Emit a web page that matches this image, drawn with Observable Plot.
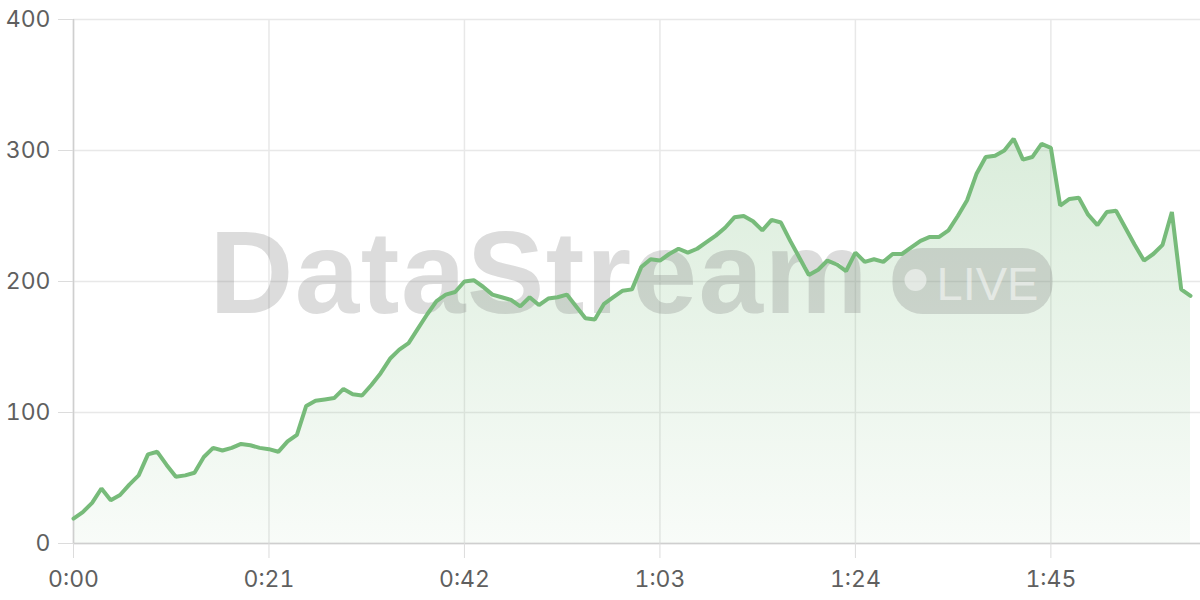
<!DOCTYPE html>
<html>
<head>
<meta charset="utf-8">
<script src="https://cdn.jsdelivr.net/npm/d3@7"></script>
<script src="https://cdn.jsdelivr.net/npm/@observablehq/plot@0.6"></script>
<style>
  html, body { margin: 0; padding: 0; background: #fff; }
  #chart { width: 1200px; height: 600px; }
</style>
</head>
<body>
<div id="chart"></div>
<script>
// Values per second (0:00 .. 2:00)
const values = [
  19, 24, 31, 42, 33, 37, 45, 52, 68, 70,
  60, 51, 52, 54, 66, 73, 71, 73, 76, 75,
  73, 72, 70, 78, 83, 105, 109, 110, 111, 118,
  114, 113, 121, 130, 141, 148, 153, 164, 175, 185,
  190, 192, 200, 201, 196, 190, 188, 186, 181, 188,
  182, 187, 188, 190, 181, 172, 171, 183, 188, 193,
  194, 211, 217, 216, 221, 225, 222, 225, 230, 235,
  241, 249, 250, 246, 239, 247, 245, 231, 218, 205,
  209, 216, 213, 208, 222, 215, 217, 215, 221, 221,
  226, 231, 234, 234, 239, 250, 262, 282, 295, 296,
  300, 309, 293, 295, 305, 302, 258, 263, 264, 251,
  243, 253, 254, 241, 228, 216, 221, 228, 253, 194,
  189
];
const seconds = values.map((_, i) => i);
const xTicks = [0, 21, 42, 63, 84, 105];
const xTickLabels = ["0:00", "0:21", "0:42", "1:03", "1:24", "1:45"];
const yTicks = [0, 100, 200, 300, 400];

const data = values.map((v, i) => ({t: seconds[i], v}));

const lineColor = "#77bb7a";

const gradientDefs = () => {
  const g = d3.create("svg:g");
  const grad = g.append("defs").append("linearGradient")
    .attr("id", "areaGrad").attr("x1", 0).attr("y1", 0).attr("x2", 0).attr("y2", 1);
  grad.append("stop").attr("offset", "0%").attr("stop-color", lineColor).attr("stop-opacity", 0.27);
  grad.append("stop").attr("offset", "100%").attr("stop-color", lineColor).attr("stop-opacity", 0.05);
  return g.node();
};

const watermark = (index, scales, values, dimensions) => {
  const {height, marginTop, marginBottom} = dimensions;
  const cx = (scales.x(0) + scales.x(120)) / 2;
  const cy = marginTop + (height - marginTop - marginBottom) / 2;
  const g = d3.create("svg:g").attr("pointer-events", "none").attr("text-anchor", "start");
  const grey = "rgba(120,120,120,0.26)";
  g.append("text")
    .attr("x", cx - 422).attr("y", cy + 32)
    .attr("text-anchor", "start")
    .attr("font-family", "'Liberation Sans', Arial, sans-serif")
    .attr("font-weight", "bold").attr("font-size", 116)
    .attr("letter-spacing", "1.5px")
    .attr("fill", grey)
    .text("DataStream");
  g.append("rect")
    .attr("x", cx + 261).attr("y", cy - 33)
    .attr("width", 160).attr("height", 66).attr("rx", 30)
    .attr("fill", grey);
  g.append("circle")
    .attr("cx", cx + 284).attr("cy", cy - 1).attr("r", 11)
    .attr("fill", "rgba(255,255,255,0.5)");
  g.append("text")
    .attr("x", cx + 305).attr("y", cy + 19)
    .attr("text-anchor", "start")
    .attr("font-family", "'Liberation Sans', Arial, sans-serif")
    .attr("font-size", 47)
    .attr("fill", "rgba(255,255,255,0.5)")
    .text("LIVE");
  return g.node();
};

const chart = Plot.plot({
  width: 1200,
  height: 600,
  marginLeft: 73,
  marginRight: 0,
  marginTop: 19,
  marginBottom: 57,
  style: {fontFamily: "Inter, 'DejaVu Sans', sans-serif", fontSize: "23px", background: "#fff", color: "#5f5f5f"},
  x: {domain: [0, 120], insetRight: 10},
  y: {domain: [0, 400]},
  marks: [
    gradientDefs,
    Plot.gridY(yTicks, {stroke: "#e8e8e8", strokeOpacity: 1, strokeWidth: 1.5}),
    Plot.gridX(xTicks, {stroke: "#e8e8e8", strokeOpacity: 1, strokeWidth: 1.5}),
    Plot.areaY(data, {x: "t", y: "v", fill: "url(#areaGrad)"}),
    watermark,
    Plot.ruleX([0], {stroke: "#cfcfcf", strokeWidth: 1.5}),
    Plot.ruleY([0], {stroke: "#cfcfcf", strokeWidth: 1.5}),
    Plot.lineY(data, {x: "t", y: "v", stroke: lineColor, strokeWidth: 4, strokeLinejoin: "miter"}),
    Plot.axisX(xTicks, {tickFormat: d => xTickLabels[xTicks.indexOf(d)], tickSize: 15, tickPadding: 12, stroke: "#dcdcdc", fill: "#5f5f5f", label: null}),
    Plot.axisY(yTicks, {tickSize: 15, tickPadding: 8, stroke: "#dcdcdc", fill: "#5f5f5f", label: null})
  ]
});
document.getElementById("chart").appendChild(chart);
</script>
</body>
</html>
